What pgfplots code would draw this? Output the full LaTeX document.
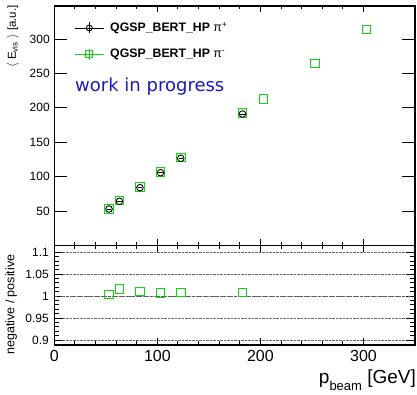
\documentclass[border=0pt]{standalone}
\usepackage{pgfplots}
\pgfplotsset{compat=1.18}
\usepackage{fontspec}
\setmainfont{Liberation Sans}
\newfontfamily\dejavu{DejaVu Sans}
\definecolor{rootgreen}{RGB}{20,210,20}
\definecolor{wipblue}{RGB}{25,25,190}
\begin{document}
\begin{tikzpicture}
\path[use as bounding box] (0pt,0pt) rectangle (417pt,394pt);
\begin{axis}[
  at={(54.3pt,148.6pt)}, anchor=south west, scale only axis,
  width=360.7pt, height=239.4pt,
  xmin=0, xmax=350, ymin=0, ymax=348,
  xtick={0,100,200,300}, xticklabels={}, minor x tick num=4,
  ytick={50,100,150,200,250,300},
  tick align=inside,
  axis line style={line width=1.2pt},
  every tick/.style={black, line width=1pt},
  xtick style={/pgfplots/major tick length=6pt,/pgfplots/minor tick length=3pt},
  ytick style={/pgfplots/major tick length=13pt},
  /pgf/number format/assume math mode=true,
  yticklabel style={font=\fontsize{12}{12}\selectfont, xshift=-1pt},
  ylabel={$\langle$ E$_{\mathrm{vis}}$ $\rangle$ [a.u.]},
  ylabel style={at={(axis description cs:-0.115,1.004)}, anchor=east, inner sep=0pt, font=\fontsize{11.5}{11.5}\selectfont},
  legend style={at={(axis description cs:0.055,0.94)}, anchor=north west, draw=none, fill=none,
     font=\bfseries\fontsize{12.3}{14}\selectfont, row sep=12pt, inner sep=0pt, cells={anchor=west},
     /tikz/every even column/.append style={column sep=0pt}},
  legend cell align=left,
]
\addlegendimage{black, line width=0.9pt, legend image code/.code={
   \draw (0pt,0pt)--(29pt,0pt);
   \draw (14.5pt,-5.5pt)--(14.5pt,5.5pt);
   \draw (14.5pt,0pt) circle (3pt);}}
\addlegendentry{\hspace{4pt}QGSP\_BERT\_HP {\normalfont π\textsuperscript{+}}}
\addlegendimage{rootgreen, line width=0.9pt, legend image code/.code={
   \draw (0pt,0pt)--(29pt,0pt);
   \draw (14.5pt,-5.5pt)--(14.5pt,5.5pt);
   \draw (11pt,-3.5pt) rectangle (18pt,3.5pt);}}
\addlegendentry{\hspace{4pt}QGSP\_BERT\_HP {\normalfont π\textsuperscript{-}}}
\addplot[forget plot, only marks, mark=square, mark size=4.3pt, rootgreen, mark options={line width=0.9pt}]
 coordinates {(53.1,53.1) (63.2,65.1) (83.1,84.8) (103.1,106.4) (122.7,127.6) (182.6,192.5) (202.9,212.8) (252.8,264.7) (302.8,314)};
\addplot[forget plot, only marks, mark=o, mark size=3.3pt, black, mark options={line width=0.9pt}]
 coordinates {(53.1,52.9) (63.2,64.1) (83.1,83.9) (103.1,105.7) (122.7,126.6) (182.6,191)};
\addplot[forget plot, only marks, mark=-, mark size=2.2pt, black, mark options={line width=1pt}]
 coordinates {(53.1,52.9) (63.2,64.1) (83.1,83.9) (103.1,105.7) (122.7,126.6) (182.6,191)};
\node[anchor=base west, text=wipblue, font=\dejavu\fontsize{18}{18}\selectfont, inner sep=0pt]
  at (axis description cs:0.0574,0.6420) {work in progress};
\end{axis}
\begin{axis}[
  at={(54.3pt,49pt)}, anchor=south west, scale only axis,
  width=360.7pt, height=99.6pt,
  xmin=0, xmax=350, ymin=0.8886, ymax=1.1157,
  xtick={0,100,200,300}, minor x tick num=4,
  ytick={0.9,0.95,1,1.05,1.1}, yticklabels={0.9,0.95,1,1.05,1.1}, minor y tick num=4,
  tick align=inside,
  axis line style={line width=1.2pt},
  every tick/.style={black, line width=1pt},
  xtick style={/pgfplots/major tick length=7pt,/pgfplots/minor tick length=4pt},
  ytick style={/pgfplots/major tick length=9pt,/pgfplots/minor tick length=5pt},
  ymajorgrids, major grid style={densely dotted, gray!80!black, line width=0.6pt},
  /pgf/number format/assume math mode=true,
  yticklabel style={font=\fontsize{12}{12}\selectfont, xshift=-2pt},
  xticklabel style={font=\fontsize{16}{16}\selectfont, yshift=-2pt},
  ylabel={negative / positive},
  ylabel style={at={(axis description cs:-0.12,0.405)}, anchor=center, inner sep=0pt, font=\fontsize{12.5}{12.5}\selectfont},
  xlabel={\fontsize{19}{19}\selectfont p\raisebox{-7pt}{\fontsize{13}{13}\selectfont beam} [GeV]},
  xlabel style={at={(axis description cs:1.003,0)}, anchor=base east, yshift=-38pt, inner sep=0pt},
]
\addplot[gray!70!black, dashed, line width=0.7pt] coordinates {(0,1) (350,1)};
\addplot[only marks, mark=square, mark size=4.3pt, rootgreen, mark options={line width=0.9pt}]
 coordinates {(53.1,1.0037) (63.2,1.016) (83.1,1.0105) (103.1,1.007) (122.7,1.008) (182.6,1.008)};
\end{axis}
\end{tikzpicture}
\end{document}
